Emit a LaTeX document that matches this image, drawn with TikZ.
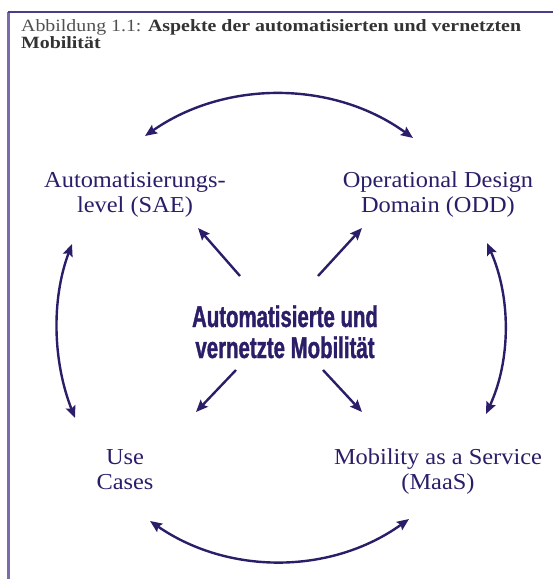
\documentclass[tikz,border=0pt]{standalone}
\usepackage{fontspec}
\setmainfont{Liberation Serif}
\newfontfamily\condfont[FakeStretch=0.68,FakeBold=1.2]{Liberation Sans}
\newfontfamily\capfont[FakeStretch=1.155]{Liberation Serif}
\newfontfamily\lblfont[FakeStretch=1.07]{Liberation Serif}
\usetikzlibrary{arrows.meta}
\definecolor{dpurple}{HTML}{2B1D68}
\definecolor{framedark}{HTML}{4A3D8A}
\definecolor{framelight}{HTML}{7A6CAB}
\definecolor{capgray}{HTML}{505050}
\definecolor{capdark}{HTML}{333333}
\tikzset{
  lbl/.style={text=dpurple, font=\lblfont\fontsize{22.8}{25}\selectfont, align=center, inner sep=0pt, anchor=base},
  conn/.style={draw=dpurple, line width=2.4pt, -{Stealth[length=12pt,width=10pt,inset=2pt]}},
  dconn/.style={draw=dpurple, line width=2.4pt, {Stealth[length=12pt,width=10pt,inset=2pt]}-{Stealth[length=12pt,width=10pt,inset=2pt]}},
}
\begin{document}
\begin{tikzpicture}[x=1pt,y=-1pt]
\useasboundingbox (0,0) rectangle (553,579);
% frame
\draw[framelight, line width=2.4pt] (8.5,12) -- (8.5,579);
\draw[framedark, line width=2pt] (7.5,12) -- (553,12);
% caption (base anchor = last line)
\node[anchor=base west, inner sep=0pt, align=left, text=capgray, font=\capfont\fontsize{17.2}{15.5}\selectfont] (cap) at (21,48)
  {Abbildung 1.1: \textcolor{capdark}{\textbf{Aspekte der automatisierten und vernetzten}}\\\textcolor{capdark}{\textbf{Mobilität}}};
% labels (base anchor = last line)
\node[lbl] (sae) at (135,212) {Automatisierungs-\\level (SAE)};
\node[lbl] (odd) at (438,212) {Operational Design\\Domain (ODD)};
\node[lbl] (use) at (125,489) {Use\\Cases};
\node[lbl] (maas) at (438,489) {Mobility as a Service\\(MaaS)};
\node[anchor=base, inner sep=0pt, align=center, text=dpurple, font=\condfont\bfseries\fontsize{30}{31}\selectfont] (center) at (285,358) {Automatisierte und\\vernetzte Mobilität};
% arrow coordinates
\coordinate (c1) at (240,276); \coordinate (t1) at (198,228);
\coordinate (c2) at (318,276); \coordinate (t2) at (362,228);
\coordinate (c3) at (236,370); \coordinate (t3) at (196,412);
\coordinate (c4) at (323,370); \coordinate (t4) at (362,412);
\draw[conn] (c1) -- (t1);
\draw[conn] (c2) -- (t2);
\draw[conn] (c3) -- (t3);
\draw[conn] (c4) -- (t4);
% arcs
\coordinate (a1) at (145,136); \coordinate (a2) at (413,138);
\coordinate (b1) at (72,244); \coordinate (b2) at (75,418);
\coordinate (r1) at (487,243); \coordinate (r2) at (486,414);
\coordinate (u1) at (150,521); \coordinate (u2) at (409,519);
\draw[dconn] (a1) .. controls (225,80) and (333,80) .. (a2);
\draw[dconn] (b1) .. controls (51,300) and (53,362) .. (b2);
\draw[dconn] (r1) .. controls (511,297) and (511,360) .. (r2);
\draw[dconn] (u1) .. controls (228,575) and (331,575) .. (u2);
\end{tikzpicture}
\end{document}
